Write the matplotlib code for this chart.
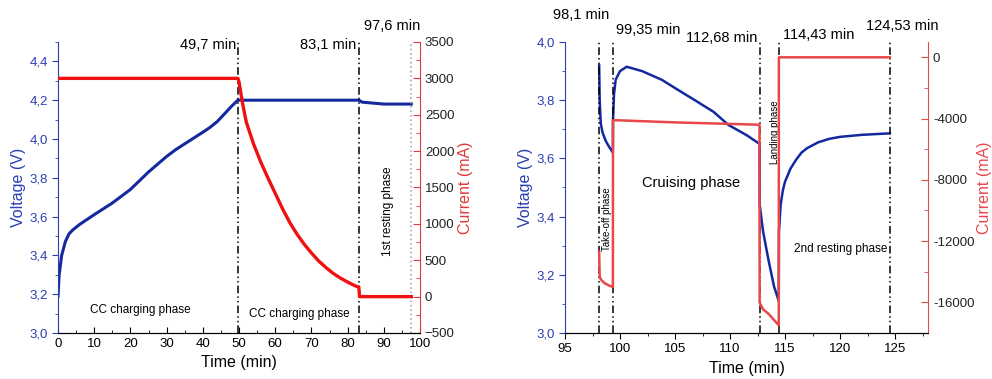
import numpy as np
import matplotlib
matplotlib.use("Agg")
import matplotlib.pyplot as plt
from matplotlib.ticker import MultipleLocator, FuncFormatter

plt.rcParams['font.family'] = ['Liberation Sans', 'DejaVu Sans']

# --- charging part (left panel) ---
t_chg_v = [0, 0.3, 1, 2, 3, 4, 6, 8, 10, 12.5, 15, 17.5, 20, 22.5, 25, 27.5, 30, 32.5, 35, 37.5, 40, 42, 44, 46, 48, 49.7,
           60, 83.1, 84, 87, 90, 97.6]
v_chg = [3.19, 3.30, 3.40, 3.47, 3.51, 3.53, 3.56, 3.585, 3.61, 3.64, 3.67, 3.705, 3.74, 3.785, 3.83, 3.87, 3.91, 3.945, 3.975, 4.005, 4.035, 4.06, 4.09, 4.13, 4.17, 4.20,
         4.20, 4.20, 4.19, 4.185, 4.18, 4.18]
t_chg_i = [0, 49.7, 50.0, 50.5, 51, 52, 54, 56, 58, 60, 62, 64, 66, 68, 70, 72, 74, 76, 78, 80, 82, 83.1, 83.3, 97.6]
i_chg = [3000, 3000, 2950, 2800, 2650, 2400, 2100, 1850, 1630, 1420, 1210, 1020, 860, 720, 600, 490, 400, 320, 255, 200, 150, 130, 0, 0]
chg_marks = [49.7, 83.1]
chg_labels = ["49,7 min", "83,1 min"]
rest1 = 97.6

# --- flight part (right panel) ---
t_fl_v = [98.1, 98.15, 98.25, 98.4, 98.7, 99.0, 99.35, 99.36, 99.45, 99.6, 100.0, 100.6, 102, 103.8, 105.5, 106.8, 108.5, 109.85, 111.5, 112.68,
          112.7, 113.0, 113.5, 114.0, 114.43, 114.45, 114.6, 114.8, 115.0, 115.5, 116, 116.5, 117, 118, 119, 120, 122, 124.53]
v_fl = [3.92, 3.80, 3.72, 3.69, 3.66, 3.64, 3.62, 3.73, 3.82, 3.87, 3.90, 3.915, 3.90, 3.87, 3.83, 3.80, 3.76, 3.715, 3.68, 3.65,
        3.44, 3.35, 3.25, 3.16, 3.11, 3.35, 3.44, 3.49, 3.52, 3.565, 3.595, 3.62, 3.635, 3.655, 3.667, 3.674, 3.681, 3.686]
t_fl_i = [98.1, 98.15, 98.25, 98.6, 99.0, 99.35, 99.36, 105, 112.68, 112.69, 112.75, 113.0, 113.5, 114.0, 114.43, 114.44, 124.53]
i_fl = [-12700, -14300, -14500, -14750, -14900, -15000, -4100, -4250, -4400, -16000, -16100, -16450, -16750, -17150, -17500, 0, 0]
fl_marks = [98.1, 99.35, 112.68, 114.43, 124.53]
fl_labels = ["98,1 min", "99,35 min", "112,68 min", "114,43 min", "124,53 min"]

BLUE = '#1428a0'
BLUE_AX = '#2a3fb0'
RED = '#f01010'
RED2 = '#e8474c'

comma1 = FuncFormatter(lambda v, p: f"{v:.1f}".replace('.', ','))
plain = FuncFormatter(lambda v, p: f"{v:.0f}")

fig = plt.figure(figsize=(9.92, 3.79), dpi=100)
axL = fig.add_axes([0.0585, 0.1214, 0.3649, 0.7678])
axR = fig.add_axes([0.5696, 0.1214, 0.3659, 0.7678])


def style(ax, ax2, red_ax, bottom_dir):
    ax.spines['top'].set_visible(False)
    ax2.spines['top'].set_visible(False)
    ax.spines['left'].set_color(BLUE_AX)
    ax2.spines['left'].set_visible(False)
    ax2.spines['right'].set_color(red_ax)
    ax.spines['right'].set_visible(False)
    ax.tick_params(axis='y', which='both', colors=BLUE_AX, labelsize=9.5, direction='out')
    ax.tick_params(axis='y', which='major', length=4)
    ax.tick_params(axis='y', which='minor', length=2.5)
    ax.tick_params(axis='x', which='both', direction=bottom_dir, labelsize=9.5)
    ax.tick_params(axis='x', which='major', length=4)
    ax.tick_params(axis='x', which='minor', length=2.5)
    ax2.tick_params(axis='y', which='both', color=red_ax, labelcolor='#222222', labelsize=9.5, direction='in')
    ax2.tick_params(axis='y', which='major', length=5)
    ax2.tick_params(axis='y', which='minor', length=3)
    ax.yaxis.set_major_formatter(comma1)
    ax.set_xlabel("Time (min)", fontsize=11.5, labelpad=4)
    ax.set_ylabel("Voltage (V)", fontsize=11.5, color=BLUE_AX, labelpad=2)
    ax2.set_ylabel("Current (mA)", fontsize=11.5, color=red_ax, labelpad=2)


# left panel
axL2 = axL.twinx()
axL.plot(t_chg_v, v_chg, color=BLUE, lw=2.2)
axL2.plot(t_chg_i, i_chg, color=RED, lw=2.4)
axL.set_xlim(0, 100)
axL.set_ylim(3.0, 4.5)
axL2.set_ylim(-500, 3500)
axL.xaxis.set_major_locator(MultipleLocator(10))
axL.xaxis.set_minor_locator(MultipleLocator(5))
axL.yaxis.set_major_locator(MultipleLocator(0.2))
axL.yaxis.set_minor_locator(MultipleLocator(0.1))
axL2.yaxis.set_major_locator(MultipleLocator(500))
axL2.yaxis.set_minor_locator(MultipleLocator(250))
style(axL, axL2, '#e03a3a', 'in')

trL = axL.get_xaxis_transform()
for xm, lab in zip(chg_marks, chg_labels):
    axL.axvline(xm, color='black', lw=1.1, ls=(0, (5, 2, 1, 2, 1, 2)))
    axL.text(xm - 0.6, 0.99, lab, transform=trL, ha='right', va='center', fontsize=10.5)
axL.axvline(rest1, color='#aaaaaa', lw=1.2, ls=':')
axL.text(92.4, 1.055, "97,6 min", transform=trL, ha='center', va='center', fontsize=10.5)
axL.text(22.7, 3.12, "CC charging phase", ha='center', va='center', fontsize=8.5)
axL.text(66.7, 3.10, "CC charging phase", ha='center', va='center', fontsize=8.5)
axL.text(91.2, 3.63, "1st resting phase", rotation=90, ha='center', va='center', fontsize=8.5)

# right panel
axR2 = axR.twinx()
axR.plot(t_fl_v, v_fl, color=BLUE, lw=1.8)
axR2.plot(t_fl_i, i_fl, color=RED2, lw=1.8)
axR.set_xlim(95, 128)
axR.set_ylim(3.0, 4.0)
axR2.set_ylim(-18000, 1000)
axR.xaxis.set_major_locator(MultipleLocator(5))
axR.xaxis.set_minor_locator(MultipleLocator(2.5))
axR.yaxis.set_major_locator(MultipleLocator(0.2))
axR.yaxis.set_minor_locator(MultipleLocator(0.1))
axR2.yaxis.set_major_locator(MultipleLocator(4000))
axR2.yaxis.set_minor_locator(MultipleLocator(2000))
axR2.yaxis.set_major_formatter(plain)
style(axR, axR2, RED2, 'out')

trR = axR.get_xaxis_transform()
for xm in fl_marks:
    axR.axvline(xm, color='black', lw=1.1, ls=(0, (5, 2, 1, 2, 1, 2)))
lab_x = [96.45, 102.6, 109.2, 118.1, 125.7]
lab_y = [1.093, 1.041, 1.014, 1.024, 1.055]
for xl, yl, lab in zip(lab_x, lab_y, fl_labels):
    axR.text(xl, yl, lab, transform=trR, ha='center', va='center', fontsize=10.5)
axR.text(98.85, 3.39, "Take-off phase", rotation=90, ha='center', va='center', fontsize=7)
axR.text(114.1, 3.69, "Landing phase", rotation=90, ha='center', va='center', fontsize=7)
axR.text(106.45, 3.515, "Cruising phase", ha='center', va='center', fontsize=10.5)
axR.text(120.1, 3.29, "2nd resting phase", ha='center', va='center', fontsize=8.5)

fig.savefig("out.png", dpi=100)
